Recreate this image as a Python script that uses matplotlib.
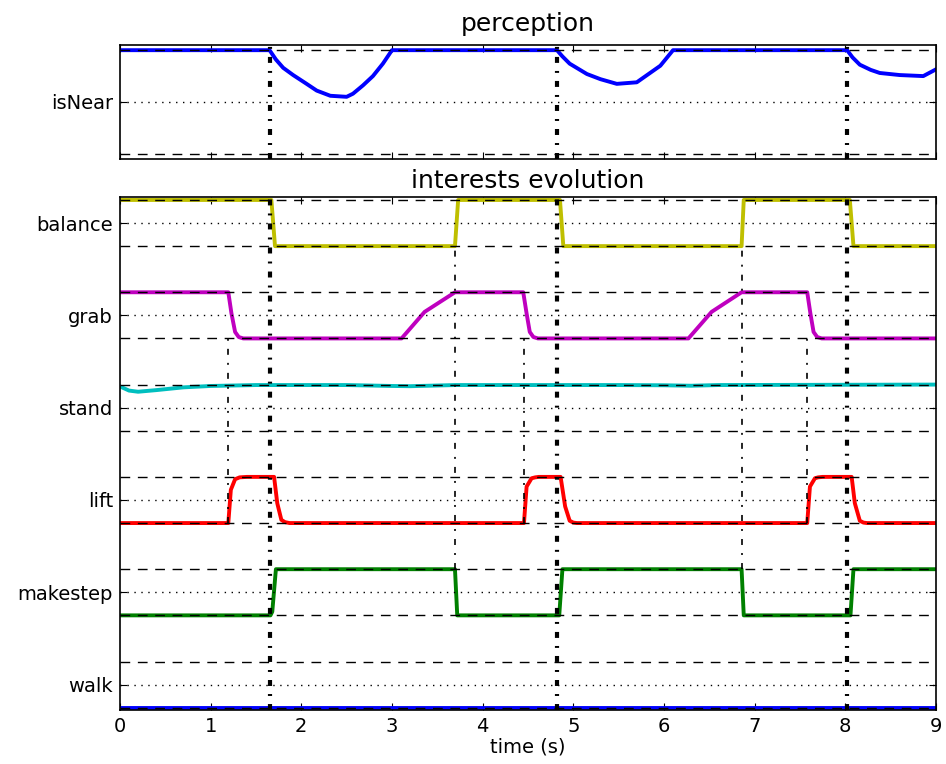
import matplotlib
matplotlib.use("Agg")
import matplotlib.pyplot as plt

plt.rcParams['font.family'] = ['DejaVu Sans']
plt.rcParams['lines.scale_dashes'] = False

# ---------------- data ----------------
# perception: isNear
near_t = [0.0, 1.65, 1.72, 1.80, 1.91, 2.05, 2.17, 2.32, 2.50, 2.57, 2.68, 2.79, 2.90, 3.00,
          4.82, 4.88, 4.96, 5.15, 5.30, 5.48, 5.70, 5.83, 5.96, 6.10,
          8.02, 8.08, 8.16, 8.28, 8.38, 8.60, 8.86, 9.00]
near_v = [1.0, 1.0, 0.91, 0.83, 0.76, 0.68, 0.61, 0.56, 0.55, 0.58, 0.66, 0.75, 0.87, 1.0,
          1.0, 0.94, 0.87, 0.77, 0.72, 0.675, 0.69, 0.77, 0.85, 1.0,
          1.0, 0.93, 0.86, 0.81, 0.78, 0.76, 0.75, 0.815]

# interests evolution
interest_names = ["walk", "makestep", "lift", "stand", "grab", "balance"]
interest_colors = ["b", "g", "r", "c", "m", "y"]

walk_t = [0.0, 9.0]
walk_v = [0.0, 0.0]

makestep_t = [0.0, 1.66, 1.68, 1.72, 3.695, 3.72, 4.845, 4.88, 6.856, 6.88, 8.057, 8.09, 9.0]
makestep_v = [0.0, 0.0, 0.08, 1.0, 1.0, 0.0, 0.0, 1.0, 1.0, 0.0, 0.0, 1.0, 1.0]

lift_t = [0.0, 1.195, 1.223, 1.27, 1.32, 1.40, 1.70, 1.735, 1.78, 1.82, 1.87, 4.456,
          4.485, 4.54, 4.58, 4.62, 4.86, 4.91, 4.96, 5.00, 5.04, 7.58, 7.61, 7.665, 7.70,
          7.75, 8.07, 8.105, 8.16, 8.20, 8.24, 9.0]
lift_v = [0.0, 0.0, 0.72, 0.95, 0.99, 1.0, 1.0, 0.43, 0.07, 0.02, 0.0, 0.0,
          0.79, 0.97, 0.99, 1.0, 1.0, 0.36, 0.05, 0.01, 0.0, 0.0, 0.79, 0.97, 0.99,
          1.0, 1.0, 0.43, 0.05, 0.01, 0.0, 0.0]

stand_t = [0.0, 0.1, 0.2, 0.4, 0.7, 1.0, 1.5, 2.5, 3.0, 3.2, 3.5, 3.7, 5.5, 6.0, 6.3, 6.6, 9.0]
stand_v = [0.96, 0.87, 0.845, 0.88, 0.94, 0.97, 0.99, 0.99, 0.97, 0.965, 0.98, 0.99,
           0.99, 0.985, 0.975, 0.99, 1.0]

grab_t = [0.0, 1.195, 1.23, 1.27, 1.31, 1.36, 3.106, 3.36, 3.695, 4.448, 4.485, 4.52,
          4.56, 4.61, 6.27, 6.525, 6.856, 7.58, 7.615, 7.65, 7.69, 7.74, 9.0]
grab_v = [1.0, 1.0, 0.54, 0.14, 0.03, 0.0, 0.0, 0.575, 1.0, 1.0, 0.54, 0.14,
          0.03, 0.0, 0.0, 0.575, 1.0, 1.0, 0.54, 0.14, 0.03, 0.0, 0.0]

balance_t = [0.0, 1.67, 1.71, 3.695, 3.73, 4.853, 4.89, 6.856, 6.88, 8.05, 8.09, 9.0]
balance_v = [1.0, 1.0, 0.0, 0.0, 1.0, 1.0, 0.0, 0.0, 1.0, 1.0, 0.0, 0.0]

interest_t = [walk_t, makestep_t, lift_t, stand_t, grab_t, balance_t]
interest_v = [walk_v, makestep_v, lift_v, stand_v, grab_v, balance_v]

# event markers
major_events = [1.66, 4.82, 8.02]
grab_lift_events = [1.195, 4.456, 7.58]
balance_step_events = [3.695, 6.856]

x_ticks = [0, 1, 2, 3, 4, 5, 6, 7, 8, 9]

# ---------------- styles ----------------
DASH = (7, 5.5)
DOT = (1, 4)
DASHDOT = (4.3, 5.8, 1.4, 5.8)

fig = plt.figure(figsize=(9.46, 7.64), dpi=100)
ax1 = fig.add_axes([0.1268, 0.7919, 0.8626, 0.1492])
ax2 = fig.add_axes([0.1268, 0.0707, 0.8626, 0.6718])

for ax in (ax1, ax2):
    ax.tick_params(direction='in', top=True, right=True, labelsize=14, length=5, pad=5)
    for s in ax.spines.values():
        s.set_linewidth(1.2)

# top axis
ax1.plot(near_t, near_v, color='b', lw=2.8, zorder=2)
ax1.axhline(1.0, color='k', lw=1, dashes=DASH, zorder=4)
ax1.axhline(0.0, color='k', lw=1, dashes=DASH, zorder=4)
ax1.axhline(0.5, color='k', lw=1, dashes=DOT, zorder=4)
for t in major_events:
    ax1.axvline(t, color='k', lw=3, dashes=DASHDOT, zorder=3)
ax1.set_xlim(0, 9)
ax1.set_ylim(-0.05, 1.05)
ax1.set_xticks(x_ticks)
ax1.set_xticklabels([])
ax1.set_yticks([0.5])
ax1.set_yticklabels(["isNear"])
ax1.set_title("perception", fontsize=18, pad=10)

# bottom axis
for i, (name, col, tt, vv) in enumerate(zip(interest_names, interest_colors, interest_t, interest_v)):
    off = 2 * i
    ax2.plot(tt, [v + off for v in vv], color=col, lw=2.8, zorder=2)
    ax2.axhline(off, color='k', lw=1, dashes=DASH, zorder=4)
    ax2.axhline(off + 1, color='k', lw=1, dashes=DASH, zorder=4)
    ax2.axhline(off + 0.5, color='k', lw=1, dashes=DOT, zorder=4)

for t in major_events:
    ax2.axvline(t, color='k', lw=3, dashes=DASHDOT, zorder=3)
for t in grab_lift_events:
    ax2.plot([t, t], [4, 8], color='k', lw=1.2, dashes=DASHDOT, zorder=3)
for t in balance_step_events:
    ax2.plot([t, t], [3, 10], color='k', lw=1.2, dashes=DASHDOT, zorder=3)

ax2.set_xlim(0, 9)
ax2.set_ylim(-0.05, 11.07)
ax2.set_xticks(x_ticks)
ax2.set_yticks([2 * i + 0.5 for i in range(len(interest_names))])
ax2.set_yticklabels(interest_names)
ax2.set_xlabel("time (s)", fontsize=14, labelpad=1)
ax2.set_title("interests evolution", fontsize=18, pad=6)

fig.savefig("out.png", dpi=100)
